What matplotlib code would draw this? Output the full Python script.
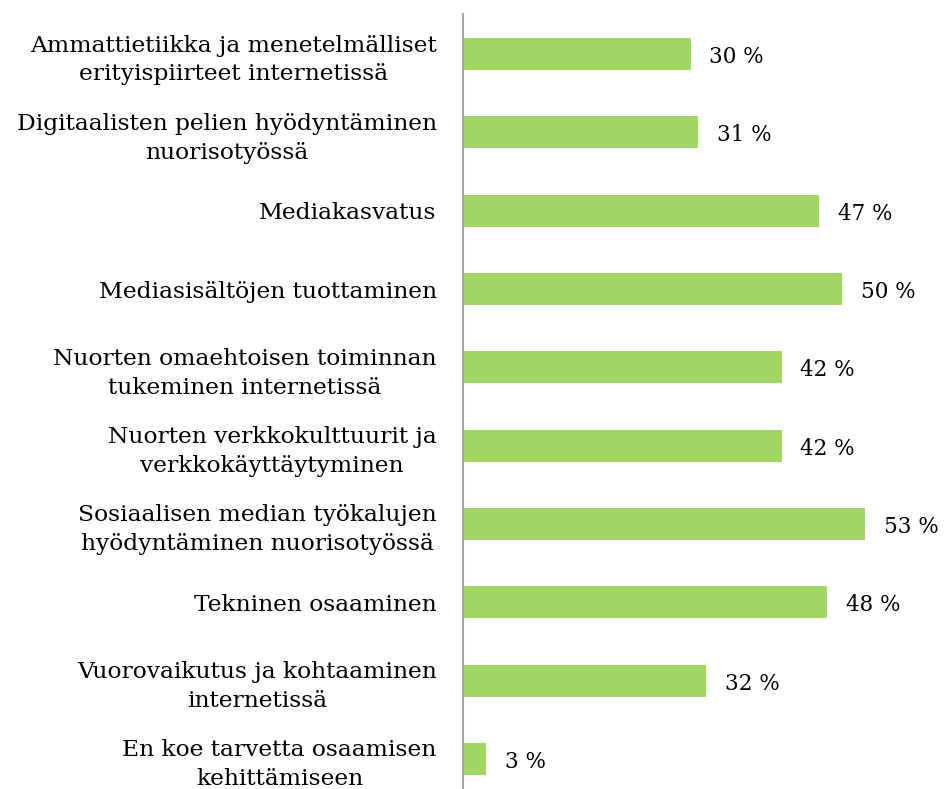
import matplotlib.pyplot as plt

categories = [
    'Ammattietiikka ja menetelmälliset\nerityispiirteet internetissä',
    'Digitaalisten pelien hyödyntäminen\nnuorisotyössä',
    'Mediakasvatus',
    'Mediasisältöjen tuottaminen',
    'Nuorten omaehtoisen toiminnan\ntukeminen internetissä',
    'Nuorten verkkokulttuurit ja\nverkkokäyttäytyminen',
    'Sosiaalisen median työkalujen\nhyödyntäminen nuorisotyössä',
    'Tekninen osaaminen',
    'Vuorovaikutus ja kohtaaminen\ninternetissä',
    'En koe tarvetta osaamisen\nkehittämiseen',
]
values = [30, 31, 47, 50, 42, 42, 53, 48, 32, 3]

plt.rcParams['font.family'] = ['DejaVu Serif']

W, H = 944, 789
fig = plt.figure(figsize=(W / 100, H / 100), dpi=100)
ax = fig.add_axes([463 / W, 0, 455 / W, (H - 14) / H])

y = list(range(len(categories)))
bars = ax.barh(y, values, height=0.41, color='#a2d665')
ax.set_xlim(0, 60)
ax.set_ylim(9 + 30 / 78.3, -40 / 78.3)

for spine in ax.spines.values():
    spine.set_visible(False)
ax.spines['left'].set_visible(True)
ax.spines['left'].set_color('#a6a6a6')
ax.spines['left'].set_linewidth(1.5)
ax.set_xticks([])
ax.set_yticks(y)
ax.set_yticklabels(categories, fontsize=16.8, linespacing=1.4,
                   multialignment='center')
ax.tick_params(axis='y', length=0, pad=19)

for bar, v in zip(bars, values):
    ax.text(bar.get_width() + 2.5, bar.get_y() + bar.get_height() / 2 + 0.04,
            f'{v} %', va='center', ha='left', fontsize=15.5, clip_on=False)

fig.savefig('out.png', dpi=100)
